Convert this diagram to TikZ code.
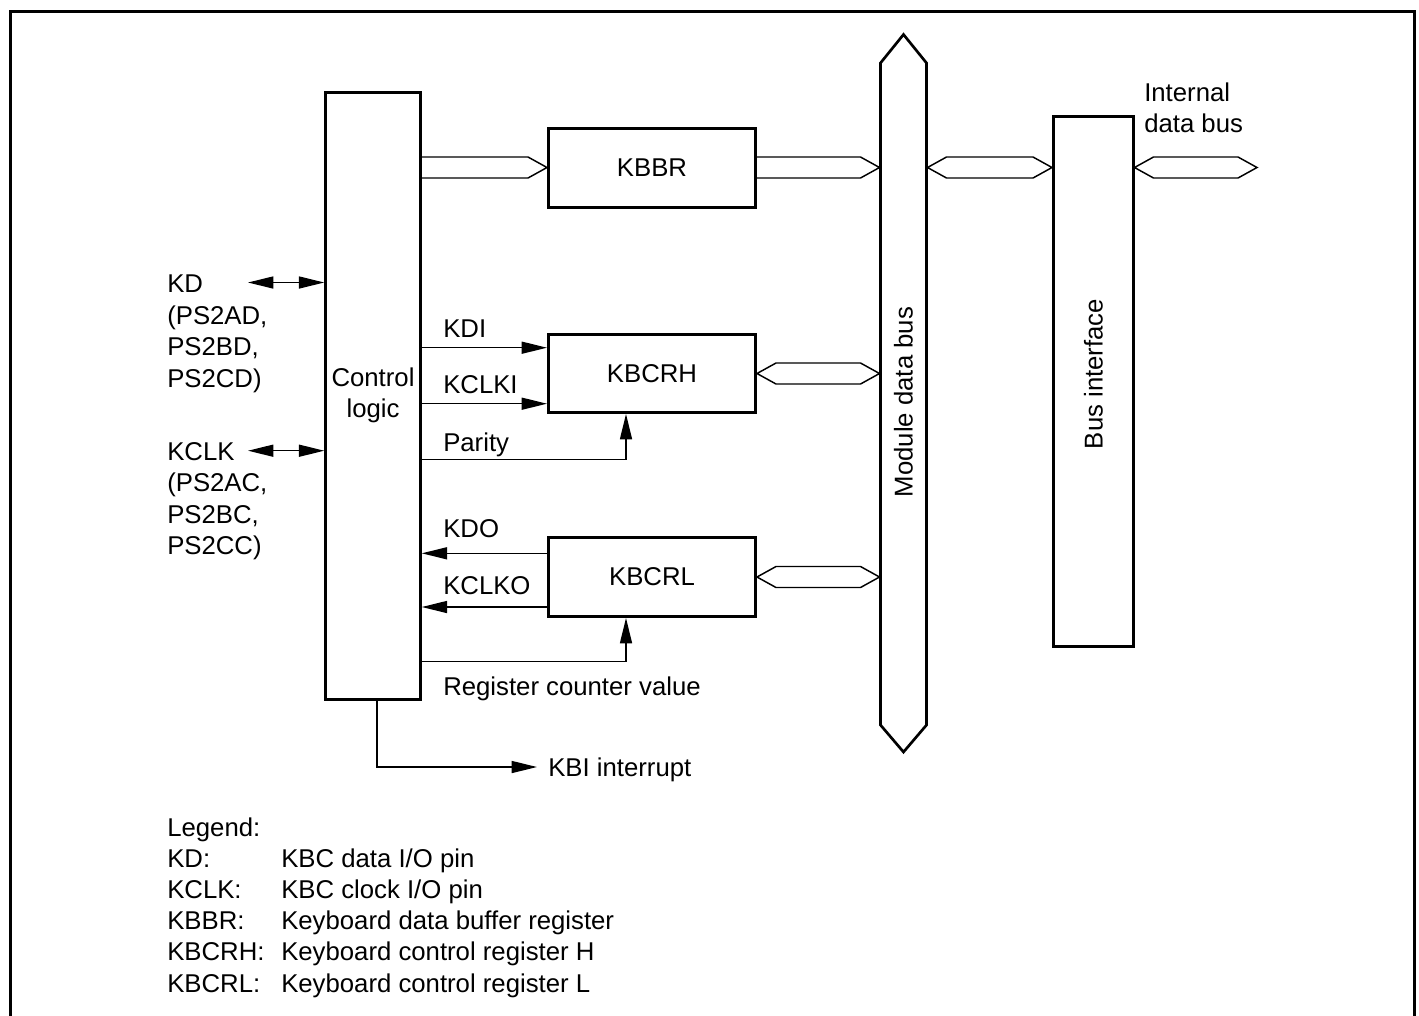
\documentclass[tikz,border=0pt]{standalone}
\usepackage{fontspec}
\setmainfont{Liberation Sans}
\usetikzlibrary{arrows.meta,calc}
\newcommand\busto[2]{\draw[bus] ($(#1)+(0,-10.5)$) -- ($(#2)+(-19,-10.5)$) -- (#2) -- ($(#2)+(-19,10.5)$) -- ($(#1)+(0,10.5)$);}
\newcommand\busboth[2]{\draw[bus] (#1) -- ($(#1)+(19,-10.5)$) -- ($(#2)+(-19,-10.5)$) -- (#2) -- ($(#2)+(-19,10.5)$) -- ($(#1)+(19,10.5)$) -- cycle;}
\begin{document}
\begin{tikzpicture}[x=0.75pt,y=-0.75pt,
  every node/.style={font=\fontsize{19.3pt}{23pt}\selectfont},
  box/.style={draw,line width=2.25pt,inner sep=0pt},
  txt/.style={inner sep=0pt,anchor=base west},
  sig/.style={line width=1.1pt},
  tip/.style={-{Triangle[length=19pt,width=9pt]}},
  dtip/.style={{Triangle[length=19pt,width=9pt]}-{Triangle[length=19pt,width=9pt]}},
  bus/.style={line width=1.1pt,line join=miter},
]
\useasboundingbox (0,0) rectangle (1419,1015);
\clip (0,0) rectangle (1419,1015);
% frame
\draw[line width=2.25pt] (10.5,1040) -- (10.5,11.5) -- (1414.5,11.5) -- (1414.5,1040);

% blocks
\node[box,minimum width={94.5*0.75pt},minimum height={607*0.75pt}] (ctrl) at (373,395.5) {};
\node[txt,anchor=base] (ctrlA) at (373,386) {Control};
\node[txt,anchor=base] (ctrlB) at (373,417) {logic};
\node[box,minimum width={207*0.75pt},minimum height={79*0.75pt}] (kbbr) at (652,167.5) {KBBR};
\node[box,minimum width={207*0.75pt},minimum height={78*0.75pt}] (kbcrh) at (652,373.5) {KBCRH};
\node[box,minimum width={207*0.75pt},minimum height={79*0.75pt}] (kbcrl) at (652,577) {KBCRL};
\node[box,minimum width={79.5*0.75pt},minimum height={529.5*0.75pt}] (bif) at (1093.25,381.25) {};
\node[rotate=90,inner sep=0pt] (biftxt) at (1093.5,374) {Bus interface};

% module data bus
\draw[line width=2pt] (880.5,63) -- (903.5,34.5) -- (926.5,63) -- (926.5,725) -- (903.5,752) -- (880.5,725) -- cycle;
\coordinate (mbL) at (879.5,400);
\coordinate (mbR) at (927.5,400);
\node[rotate=90,inner sep=0pt] (mbtxt) at (903.5,402) {Module data bus};

% buses
\coordinate (b1a) at (ctrl.east |- kbbr);
\coordinate (b1b) at (kbbr.west);
\busto{b1a}{b1b}
\coordinate (b2a) at (kbbr.east);
\coordinate (b2b) at (mbL |- kbbr);
\busto{b2a}{b2b}
\coordinate (b3a) at (mbR |- kbbr);
\coordinate (b3b) at (bif.west |- kbbr);
\busboth{b3a}{b3b}
\coordinate (b4a) at (bif.east |- kbbr);
\coordinate (ibus) at (1257,167.5);
\busboth{b4a}{ibus}
\coordinate (b5a) at (kbcrh.east);
\coordinate (b5b) at (mbL |- kbcrh);
\busboth{b5a}{b5b}
\coordinate (b6a) at (kbcrl.east);
\coordinate (b6b) at (mbL |- kbcrl);
\busboth{b6a}{b6b}

\node[txt] (int1) at (1144,101) {Internal};
\node[txt] (int2) at (1144,132.5) {data bus};

% pins
\coordinate (kdp) at (248,282.5);
\coordinate (kclkp) at (248,450.7);
\draw[sig,dtip] (kdp) -- (kdp -| ctrl.west);
\draw[sig,dtip] (kclkp) -- (kclkp -| ctrl.west);
\node[txt] (kd1) at (167,292.5) {KD};
\node[txt] (kd2) at (167,324) {(PS2AD,};
\node[txt] (kd3) at (167,355.5) {PS2BD,};
\node[txt] (kd4) at (167,387) {PS2CD)};
\node[txt] (kc1) at (167,460) {KCLK};
\node[txt] (kc2) at (167,491.5) {(PS2AC,};
\node[txt] (kc3) at (167,523) {PS2BC,};
\node[txt] (kc4) at (167,554.5) {PS2CC)};

% signals
\draw[sig,tip] (ctrl.east |- 0,347.7) -- (kbcrh.west |- 0,347.7);
\draw[sig,tip] (ctrl.east |- 0,403.7) -- (kbcrh.west |- 0,403.7);
\draw[sig,tip] (ctrl.east |- 0,459.3) -| (kbcrh.south -| 626,0);
\draw[sig,tip] (kbcrl.west |- 0,553.3) -- (ctrl.east |- 0,553.3);
\draw[sig,tip] (kbcrl.west |- 0,607) -- (ctrl.east |- 0,607);
\draw[sig,tip] (ctrl.east |- 0,661.7) -| (kbcrl.south -| 626,0);
\coordinate (kbi) at (537,767);
\draw[sig,tip] (ctrl.south -| 377,0) |- (kbi);

\node[txt] (tkdi) at (443,337) {KDI};
\node[txt] (tkclki) at (443,393) {KCLKI};
\node[txt] (tpar) at (443,451.5) {Parity};
\node[txt] (tkdo) at (443,537.3) {KDO};
\node[txt] (tkclko) at (443,594) {KCLKO};
\node[txt] (treg) at (443,695) {Register counter value};
\node[txt] (tkbi) at (548,776) {KBI interrupt};

% legend
\node[txt] (lg0) at (167,836) {Legend:};
\node[txt] (lg1) at (167,867) {KD:};
\node[txt] (lg1d) at (281,867) {KBC data I/O pin};
\node[txt] (lg2) at (167,898) {KCLK:};
\node[txt] (lg2d) at (281,898) {KBC clock I/O pin};
\node[txt] (lg3) at (167,929) {KBBR:};
\node[txt] (lg3d) at (281,929) {Keyboard data buffer register};
\node[txt] (lg4) at (167,960.7) {KBCRH:};
\node[txt] (lg4d) at (281,960.7) {Keyboard control register H};
\node[txt] (lg5) at (167,992) {KBCRL:};
\node[txt] (lg5d) at (281,992) {Keyboard control register L};
\end{tikzpicture}
\end{document}
